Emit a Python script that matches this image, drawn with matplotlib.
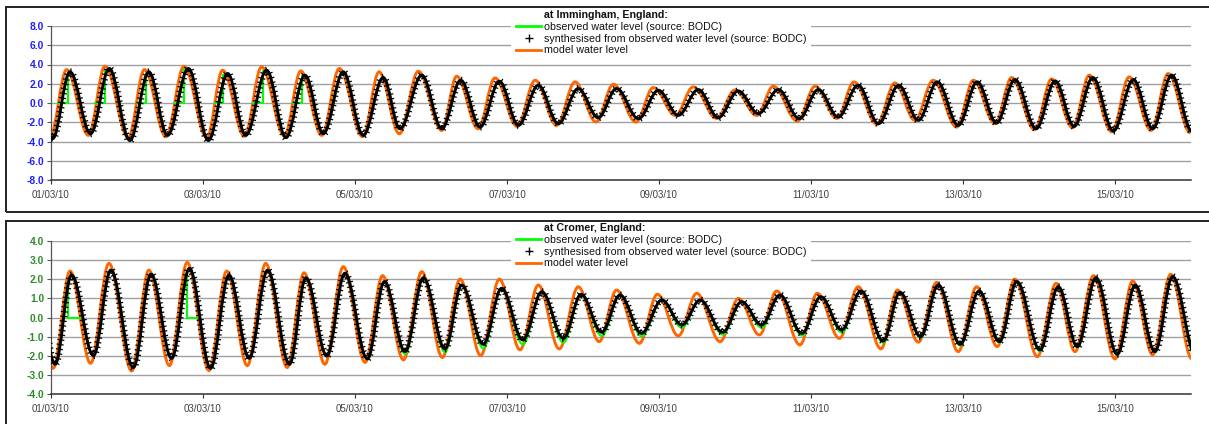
import numpy as np
import matplotlib
matplotlib.use('Agg')
import matplotlib.pyplot as plt
from matplotlib.path import Path
from matplotlib.patches import PathPatch, Rectangle
from matplotlib.lines import Line2D
from matplotlib import patheffects as pe

plt.rcParams['font.family'] = ['Liberation Sans', 'DejaVu Sans']

# ---------------- data (hours after 01/03/10 00:00, water level in m) ----------------
tick_hours = [0, 48, 96, 144, 192, 240, 288, 336]
tick_labels = ['01/03/10', '03/03/10', '05/03/10', '07/03/10',
               '09/03/10', '11/03/10', '13/03/10', '15/03/10']

# Immingham: turning points (low/high water)
imm_syn_t = [-5.7, 0.5, 6.0, 12.5, 18.4, 24.9, 30.9, 36.8, 43.4, 49.7, 55.8, 61.5, 68.1, 74.2, 80.2,
             86.0, 92.3, 98.6, 104.9, 110.2, 117.1, 123.4, 129.4, 135.5, 141.6, 147.6, 153.9,
             160.2, 166.5, 172.8, 178.6, 185.5, 191.8, 198.1, 204.4, 210.7, 217.0, 223.4, 229.7,
             236.3, 242.3, 248.6, 254.9, 261.3, 267.7, 273.9, 279.9, 286.5, 292.5, 298.6, 304.4,
             311.1, 317.1, 323.1, 329.0, 335.5, 341.8, 347.9, 353.9, 360.3]
imm_syn_h = [3.00, -3.70, 3.24, -3.19, 3.58, -3.89, 3.23, -3.36, 3.58, -3.89, 3.06, -3.36, 3.40, -3.60, 2.89,
             -3.19, 3.23, -3.36, 2.64, -2.67, 2.89, -2.67, 2.36, -2.50, 2.26, -2.32, 1.84,
             -2.15, 1.50, -1.53, 1.50, -1.63, 1.32, -1.28, 1.39, -1.53, 1.25, -1.10, 1.39,
             -1.63, 1.39, -1.46, 1.84, -2.15, 1.84, -1.80, 2.19, -2.32, 2.19, -2.08, 2.43,
             -2.67, 2.29, -2.43, 2.64, -2.91, 2.43, -2.67, 2.89, -2.95]
imm_obs_t = imm_syn_t
imm_obs_h = imm_syn_h
imm_mod_t = [-6.5, -0.3, 4.95, 11.8, 17.05, 24.4, 29.5, 36.3, 42.0, 49.2, 54.2, 61.1, 66.5, 73.7, 78.9,
             85.5, 91.05, 98.4, 103.6, 110.0, 116.0, 123.4, 128.1, 134.9, 140.2, 147.2, 152.9,
             159.7, 165.5, 172.1, 177.6, 184.7, 190.2, 197.2, 202.8, 210.2, 216.0, 222.9, 228.1,
             235.7, 241.3, 248.2, 253.6, 260.8, 266.5, 272.8, 278.6, 286.0, 291.3, 298.1, 303.4,
             310.6, 316.0, 322.6, 327.9, 335.0, 340.5, 347.4, 352.8, 359.8]
imm_mod_h = [3.30, -3.55, 3.47, -3.36, 3.82, -3.60, 3.47, -3.50, 3.82, -3.60, 3.40, -3.46, 3.75, -3.40, 3.33,
             -3.36, 3.58, -3.50, 3.23, -3.19, 3.30, -2.85, 2.78, -2.67, 2.60, -2.43, 2.36,
             -2.33, 2.19, -1.97, 1.95, -1.97, 1.60, -1.30, 1.67, -1.60, 1.35, -1.30, 1.74,
             -1.87, 1.74, -1.60, 2.19, -2.22, 2.08, -1.80, 2.36, -2.50, 2.36, -2.15, 2.64,
             -2.77, 2.50, -2.57, 2.89, -3.00, 2.71, -2.85, 3.06, -3.10]
# observed gaps (missing values shown as 0)
imm_gap_start = [2.3, 13.9, 27.1, 39.2, 51.8, 63.9, 76.5]
imm_gap_end = [5.5, 17.1, 30.0, 42.0, 54.4, 66.9, 79.2]
imm_gap_before = [0.0, 0.0, 0.0, 0.0, 0.0, 0.0, 0.0]
imm_gap_after = [3.06, 3.40, 3.06, 3.50, 2.90, 3.30, 2.80]

# Cromer
cro_syn_t = [-4.9, 1.3, 6.5, 13.4, 18.9, 26.0, 31.6, 38.1, 43.7, 50.4, 56.2, 62.6, 68.4, 75.3, 80.5,
             87.1, 92.8, 99.9, 105.3, 111.8, 117.6, 124.4, 129.7, 136.5, 142.3, 149.0, 155.0,
             161.8, 167.4, 173.9, 179.7, 186.5, 192.9, 199.2, 205.0, 212.1, 218.1, 224.4, 230.2,
             237.1, 243.1, 249.7, 255.8, 262.8, 268.1, 274.6, 280.2, 287.1, 293.1, 299.5, 305.0,
             312.3, 318.1, 324.1, 330.0, 336.7, 342.4, 348.6, 354.2, 361.5]
cro_syn_h = [2.10, -2.43, 2.22, -1.98, 2.48, -2.60, 2.27, -2.12, 2.57, -2.64, 2.22, -2.12, 2.48, -2.43, 2.08,
             -2.00, 2.31, -2.15, 1.88, -1.77, 2.08, -1.63, 1.70, -1.39, 1.53, -1.16, 1.35,
             -1.08, 1.22, -0.76, 1.18, -0.82, 0.92, -0.38, 0.92, -0.76, 0.83, -0.38, 1.18,
             -0.82, 1.09, -0.64, 1.39, -1.22, 1.32, -0.99, 1.70, -1.39, 1.39, -1.25, 1.88,
             -1.68, 1.61, -1.51, 2.08, -1.91, 1.70, -1.77, 2.14, -1.95]
cro_obs_t = cro_syn_t
cro_obs_h = [2.10, -2.43, 2.22, -1.98, 2.48, -2.60, 2.27, -2.12, 2.57, -2.64, 2.22, -2.12, 2.48, -2.43, 2.08,
             -2.00, 2.31, -2.15, 1.88, -1.90, 2.08, -1.80, 1.70, -1.60, 1.53, -1.40, 1.35,
             -1.30, 1.22, -0.95, 1.18, -0.97, 0.92, -0.52, 0.92, -0.88, 0.83, -0.52, 1.18,
             -0.93, 1.09, -0.77, 1.39, -1.30, 1.32, -1.05, 1.70, -1.45, 1.39, -1.30, 1.88,
             -1.75, 1.61, -1.55, 2.08, -1.95, 1.70, -1.80, 2.14, -2.10]
cro_mod_t = [-5.5, 0.7, 6.0, 12.5, 18.3, 25.5, 30.9, 37.4, 43.0, 49.9, 55.5, 62.0, 67.8, 74.6, 79.9,
             86.5, 92.3, 99.2, 104.7, 111.3, 117.1, 123.6, 129.2, 135.7, 141.6, 148.1, 153.9,
             160.5, 166.5, 173.1, 178.6, 185.8, 191.5, 198.1, 203.9, 211.3, 217.1, 223.7, 229.2,
             236.5, 242.0, 249.0, 254.9, 262.1, 267.3, 273.9, 279.7, 286.5, 292.3, 298.8, 304.4,
             311.5, 317.4, 323.4, 329.2, 336.0, 341.6, 347.9, 353.6, 360.3]
cro_mod_h = [2.30, -2.64, 2.43, -2.38, 2.83, -2.78, 2.48, -2.50, 2.88, -2.76, 2.43, -2.50, 2.83, -2.60, 2.34,
             -2.43, 2.66, -2.33, 2.19, -2.20, 2.40, -2.08, 2.01, -1.98, 2.01, -1.68, 1.70,
             -1.63, 1.61, -1.25, 1.44, -1.34, 1.22, -0.95, 1.27, -1.25, 1.00, -0.90, 1.39,
             -1.42, 1.27, -1.08, 1.61, -1.63, 1.44, -1.28, 1.84, -1.77, 1.61, -1.51, 2.01,
             -2.03, 1.79, -1.77, 2.19, -2.15, 1.91, -1.94, 2.26, -2.15]
cro_gap_start = [5.5, 43.0]
cro_gap_end = [9.2, 46.0]
cro_gap_before = [1.7, 2.4]
cro_gap_after = [0.0, 0.0]

label_obs = 'observed water level (source: BODC)'
label_syn = 'synthesised from observed water level (source: BODC)'
label_mod = 'model water level'

# ---------------- figure ----------------
W, H = 1209, 424
fig = plt.figure(figsize=(W / 100, H / 100), dpi=100)

GREEN = '#00ff00'
ORANGE = '#ff6600'
K = 1 - 2 / np.pi   # Bezier handle fraction giving a half-cosine shape between turning points


def tide_path(times, levels):
    verts = [(times[0], levels[0])]
    codes = [Path.MOVETO]
    for i in range(len(times) - 1):
        t0, t1 = times[i], times[i + 1]
        h0, h1 = levels[i], levels[i + 1]
        d = (t1 - t0) * K
        verts += [(t0 + d, h0), (t1 - d, h1), (t1, h1)]
        codes += [Path.CURVE4] * 3
    return Path(verts, codes)


def px_axes(l, t, r, b):
    return fig.add_axes([l / W, 1 - b / H, (r - l) / W, (b - t) / H])


def panel(ax, title, ylim, ystep, ycolor, syn, obs, mod, gaps, leg_xy):
    ax.set_xlim(0, 360)
    ax.set_ylim(*ylim)
    yt = np.arange(ylim[0], ylim[1] + ystep / 2, ystep)
    ax.set_yticks(yt)
    ax.set_yticklabels([f'{v:.1f}' for v in yt], fontweight='bold', color=ycolor, fontsize=7.4)
    ax.set_xticks(tick_hours)
    ax.set_xticklabels(tick_labels, color='#404040', fontsize=7)
    ax.grid(axis='y', color='#a0a0a0', lw=1.0)
    ax.set_axisbelow(True)
    for s in ('top', 'right'):
        ax.spines[s].set_visible(False)
    ax.spines['left'].set_color('#555555')
    ax.spines['left'].set_linewidth(0.9)
    ax.spines['bottom'].set_color('#333333')
    ax.spines['bottom'].set_linewidth(1.1)
    ax.tick_params(axis='y', length=3, width=0.8, color='#555555', pad=2)
    ax.tick_params(axis='x', length=3, width=0.8, color='#333333', pad=4)

    ax.add_patch(PathPatch(tide_path(*mod), fill=False, edgecolor=ORANGE, lw=2.1,
                           zorder=2, capstyle='butt'))
    ax.add_patch(PathPatch(tide_path(*obs), fill=False, edgecolor=GREEN, lw=1.5, zorder=3))
    for s, e, b, a in zip(*gaps):
        ax.plot([s, s, e, e], [b, 0, 0, a], color=GREEN, lw=1.5, zorder=3)
    ticks = [pe.Normal(),
             pe.TickedStroke(spacing=3.4, angle=90, length=0.75, linewidth=0.9, foreground='k'),
             pe.TickedStroke(spacing=3.4, angle=-90, length=0.75, linewidth=0.9, foreground='k')]
    ax.add_patch(PathPatch(tide_path(*syn), fill=False, edgecolor='k', lw=2.1, zorder=4,
                           path_effects=ticks))

    handles = [Line2D([], [], ls='none'),
               Line2D([], [], color=GREEN, lw=2),
               Line2D([], [], ls='none', marker='+', color='k', ms=6, mew=1),
               Line2D([], [], color=ORANGE, lw=2)]
    labels = [title, label_obs, label_syn, label_mod]
    leg = ax.legend(handles, labels, loc='upper left',
                    bbox_to_anchor=(leg_xy[0] / W, 1 - leg_xy[1] / H),
                    bbox_transform=fig.transFigure, frameon=True, fancybox=False,
                    edgecolor='none', facecolor='white', framealpha=1, fontsize=7.7,
                    handlelength=2.3, handletextpad=0.25, labelspacing=0.16,
                    borderpad=0.5, borderaxespad=0)
    leg.get_texts()[0].set_fontweight('bold')
    for t in leg.get_texts():
        t.set_color('#111111')


ax1 = px_axes(51, 26, 1191, 180)
panel(ax1, 'at Immingham, England:', (-8, 8), 2.0, '#1f1fff',
      (imm_syn_t, imm_syn_h), (imm_obs_t, imm_obs_h), (imm_mod_t, imm_mod_h),
      (imm_gap_start, imm_gap_end, imm_gap_before, imm_gap_after), (511, 5))

ax2 = px_axes(51, 241, 1191, 394.3)
panel(ax2, 'at Cromer, England:', (-4, 4), 1.0, '#2e8b2e',
      (cro_syn_t, cro_syn_h), (cro_obs_t, cro_obs_h), (cro_mod_t, cro_mod_h),
      (cro_gap_start, cro_gap_end, cro_gap_before, cro_gap_after), (511, 218))

# chart-area borders
fig.patches.append(Rectangle((6 / W, 1 - 212 / H), (1220 - 6) / W, (212 - 7) / H,
                             transform=fig.transFigure, fill=False, edgecolor='#222222',
                             lw=1.4, zorder=10))
fig.patches.append(Rectangle((6 / W, -0.05), (1220 - 6) / W, (424 - 221) / H + 0.05,
                             transform=fig.transFigure, fill=False, edgecolor='#222222',
                             lw=1.4, zorder=10))

fig.savefig('out.png', dpi=100)
